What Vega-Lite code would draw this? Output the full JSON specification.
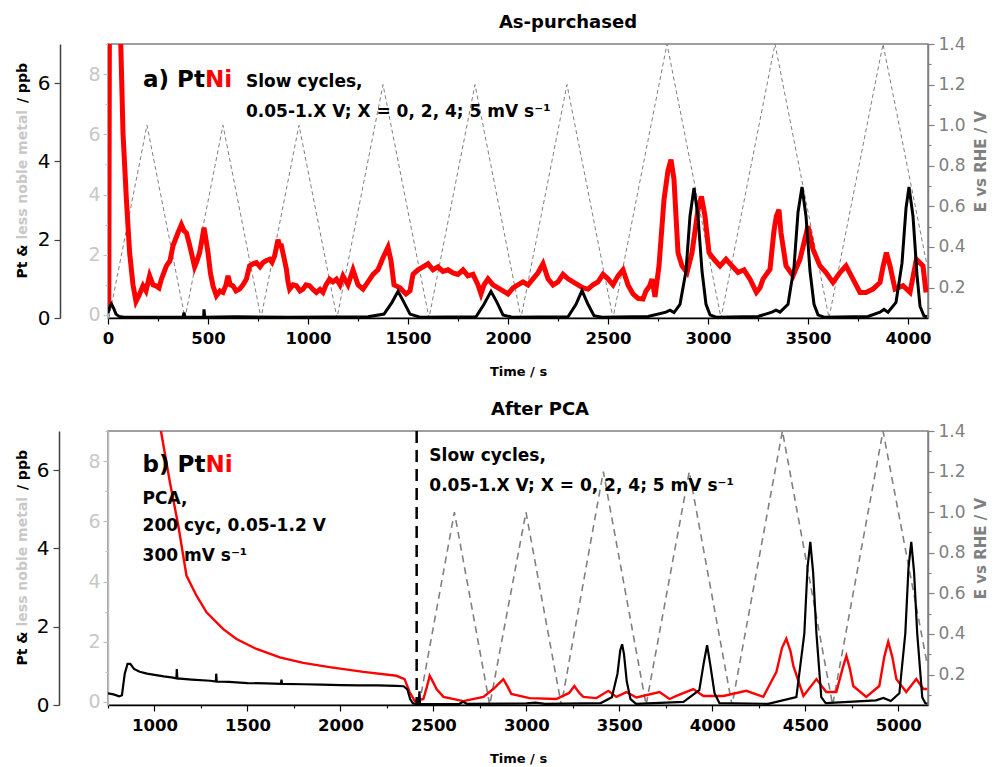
{
"$schema": "https://vega.github.io/schema/vega-lite/v6.json",
"padding": {"left": 14, "top": 13, "right": 2, "bottom": 0},
"background": "white",
"config": {
  "font": "DejaVu Sans",
  "view": {"stroke": "#808080", "strokeWidth": 1.5},
  "axis": {"labelFont": "DejaVu Sans", "titleFont": "DejaVu Sans", "grid": false, "domainWidth": 1.5, "tickWidth": 1.2, "labelFlush": false, "labelOverlap": false},
  "title": {"font": "DejaVu Sans", "fontSize": 18, "fontWeight": "bold", "color": "black"}
},
"datasets": {
  "a_e": [{"t":5,"v":0.05},{"t":195,"v":1.0},{"t":385,"v":0.05},{"t":575,"v":1.0},{"t":765,"v":0.05},{"t":955,"v":1.0},{"t":1145,"v":0.05},{"t":1375,"v":1.2},{"t":1605,"v":0.05},{"t":1835,"v":1.2},{"t":2065,"v":0.05},{"t":2295,"v":1.2},{"t":2525,"v":0.05},{"t":2795,"v":1.4},{"t":3065,"v":0.05},{"t":3335,"v":1.4},{"t":3605,"v":0.05},{"t":3875,"v":1.4},{"t":4095,"v":0.31}],
  "a_pt": [{"t":0,"v":0.12},{"t":8,"v":0.28},{"t":17,"v":0.36},{"t":28,"v":0.25},{"t":40,"v":0.1},{"t":55,"v":0.04},{"t":80,"v":0.02},{"t":200,"v":0.02},{"t":375,"v":0.02},{"t":380,"v":0.14},{"t":385,"v":0.02},{"t":478,"v":0.02},{"t":480,"v":0.22},{"t":484,"v":0.02},{"t":640,"v":0.03},{"t":900,"v":0.02},{"t":1300,"v":0.03},{"t":1380,"v":0.1},{"t":1420,"v":0.4},{"t":1450,"v":0.68},{"t":1480,"v":0.4},{"t":1510,"v":0.1},{"t":1560,"v":0.02},{"t":1840,"v":0.03},{"t":1880,"v":0.35},{"t":1915,"v":0.68},{"t":1945,"v":0.4},{"t":1975,"v":0.08},{"t":2020,"v":0.02},{"t":2300,"v":0.03},{"t":2340,"v":0.35},{"t":2370,"v":0.7},{"t":2400,"v":0.35},{"t":2430,"v":0.06},{"t":2470,"v":0.02},{"t":2700,"v":0.04},{"t":2790,"v":0.15},{"t":2810,"v":0.2},{"t":2830,"v":0.14},{"t":2860,"v":0.35},{"t":2890,"v":1.2},{"t":2910,"v":2.6},{"t":2930,"v":3.32},{"t":2950,"v":2.6},{"t":2970,"v":1.2},{"t":2990,"v":0.35},{"t":3010,"v":0.08},{"t":3040,"v":0.02},{"t":3250,"v":0.04},{"t":3320,"v":0.15},{"t":3340,"v":0.2},{"t":3360,"v":0.15},{"t":3400,"v":0.35},{"t":3430,"v":1.3},{"t":3450,"v":2.7},{"t":3470,"v":3.35},{"t":3490,"v":2.6},{"t":3510,"v":1.2},{"t":3530,"v":0.35},{"t":3550,"v":0.08},{"t":3580,"v":0.02},{"t":3800,"v":0.04},{"t":3860,"v":0.15},{"t":3880,"v":0.22},{"t":3900,"v":0.15},{"t":3940,"v":0.4},{"t":3970,"v":1.4},{"t":3990,"v":2.8},{"t":4005,"v":3.35},{"t":4025,"v":2.6},{"t":4045,"v":1.1},{"t":4060,"v":0.3},{"t":4080,"v":0.05},{"t":4095,"v":0.03}],
  "a_ni": [{"t":0,"v":0.3},{"t":4,"v":0.4},{"t":7,"v":9.5},{"t":62,"v":9.5},{"t":75,"v":6.05},{"t":92,"v":3.83},{"t":108,"v":2.08},{"t":125,"v":1.0},{"t":140,"v":0.45},{"t":155,"v":0.65},{"t":175,"v":0.97},{"t":190,"v":0.8},{"t":208,"v":1.3},{"t":225,"v":1.0},{"t":242,"v":0.96},{"t":255,"v":0.9},{"t":267,"v":1.19},{"t":292,"v":1.63},{"t":310,"v":1.8},{"t":325,"v":2.3},{"t":350,"v":2.73},{"t":367,"v":3.0},{"t":380,"v":2.8},{"t":392,"v":2.73},{"t":405,"v":2.4},{"t":417,"v":2.07},{"t":433,"v":1.6},{"t":445,"v":1.8},{"t":458,"v":2.07},{"t":470,"v":2.5},{"t":480,"v":2.9},{"t":490,"v":2.5},{"t":500,"v":2.07},{"t":512,"v":1.4},{"t":525,"v":0.97},{"t":542,"v":0.64},{"t":560,"v":0.8},{"t":575,"v":0.75},{"t":590,"v":1.0},{"t":600,"v":1.3},{"t":612,"v":1.0},{"t":625,"v":0.97},{"t":640,"v":0.8},{"t":658,"v":0.86},{"t":675,"v":1.0},{"t":692,"v":1.19},{"t":708,"v":1.63},{"t":725,"v":1.7},{"t":742,"v":1.74},{"t":760,"v":1.6},{"t":775,"v":1.74},{"t":790,"v":1.8},{"t":808,"v":1.85},{"t":820,"v":1.75},{"t":833,"v":1.96},{"t":850,"v":2.5},{"t":858,"v":2.3},{"t":867,"v":2.3},{"t":880,"v":1.9},{"t":892,"v":1.52},{"t":900,"v":1.1},{"t":908,"v":0.86},{"t":925,"v":1.0},{"t":942,"v":0.97},{"t":960,"v":0.8},{"t":975,"v":0.86},{"t":990,"v":1.0},{"t":1008,"v":0.97},{"t":1025,"v":0.85},{"t":1042,"v":0.75},{"t":1060,"v":0.85},{"t":1075,"v":0.75},{"t":1090,"v":1.0},{"t":1108,"v":1.19},{"t":1125,"v":1.1},{"t":1142,"v":1.19},{"t":1160,"v":1.0},{"t":1175,"v":1.3},{"t":1200,"v":1.0},{"t":1225,"v":1.5},{"t":1250,"v":1.0},{"t":1275,"v":0.86},{"t":1300,"v":1.1},{"t":1325,"v":1.35},{"t":1350,"v":1.5},{"t":1375,"v":1.9},{"t":1400,"v":2.25},{"t":1415,"v":1.8},{"t":1430,"v":1.0},{"t":1460,"v":0.9},{"t":1490,"v":0.7},{"t":1510,"v":0.8},{"t":1525,"v":1.35},{"t":1550,"v":1.5},{"t":1575,"v":1.6},{"t":1600,"v":1.7},{"t":1625,"v":1.5},{"t":1650,"v":1.6},{"t":1675,"v":1.45},{"t":1700,"v":1.5},{"t":1725,"v":1.4},{"t":1750,"v":1.35},{"t":1775,"v":1.5},{"t":1800,"v":1.3},{"t":1825,"v":1.35},{"t":1850,"v":1.0},{"t":1865,"v":0.7},{"t":1880,"v":1.0},{"t":1900,"v":1.2},{"t":1925,"v":1.0},{"t":1950,"v":0.9},{"t":1975,"v":0.8},{"t":2000,"v":0.7},{"t":2025,"v":0.9},{"t":2050,"v":1.0},{"t":2075,"v":1.1},{"t":2100,"v":1.0},{"t":2125,"v":1.2},{"t":2150,"v":1.4},{"t":2175,"v":1.7},{"t":2200,"v":1.2},{"t":2225,"v":1.0},{"t":2250,"v":1.1},{"t":2275,"v":1.35},{"t":2300,"v":1.2},{"t":2325,"v":1.1},{"t":2350,"v":1.0},{"t":2375,"v":0.9},{"t":2400,"v":0.86},{"t":2425,"v":1.0},{"t":2450,"v":1.1},{"t":2475,"v":1.35},{"t":2500,"v":1.2},{"t":2525,"v":1.0},{"t":2550,"v":1.3},{"t":2575,"v":1.5},{"t":2600,"v":1.0},{"t":2625,"v":0.7},{"t":2650,"v":0.55},{"t":2675,"v":0.53},{"t":2690,"v":0.8},{"t":2708,"v":0.96},{"t":2720,"v":1.19},{"t":2735,"v":0.6},{"t":2755,"v":1.63},{"t":2780,"v":3.83},{"t":2800,"v":4.8},{"t":2815,"v":5.16},{"t":2830,"v":4.5},{"t":2850,"v":2.07},{"t":2870,"v":1.63},{"t":2895,"v":1.41},{"t":2920,"v":2.07},{"t":2950,"v":3.5},{"t":2967,"v":3.94},{"t":2985,"v":3.28},{"t":3005,"v":2.07},{"t":3030,"v":1.85},{"t":3060,"v":1.63},{"t":3090,"v":1.85},{"t":3120,"v":1.63},{"t":3150,"v":1.41},{"t":3180,"v":1.5},{"t":3210,"v":1.19},{"t":3242,"v":0.75},{"t":3260,"v":0.9},{"t":3275,"v":1.19},{"t":3310,"v":1.52},{"t":3330,"v":2.8},{"t":3342,"v":3.28},{"t":3355,"v":3.5},{"t":3365,"v":2.73},{"t":3390,"v":1.63},{"t":3425,"v":1.3},{"t":3460,"v":1.85},{"t":3500,"v":2.95},{"t":3525,"v":2.18},{"t":3560,"v":1.63},{"t":3590,"v":1.41},{"t":3625,"v":1.08},{"t":3660,"v":1.41},{"t":3690,"v":1.63},{"t":3725,"v":1.19},{"t":3760,"v":0.75},{"t":3790,"v":0.75},{"t":3825,"v":0.86},{"t":3860,"v":1.08},{"t":3875,"v":1.6},{"t":3892,"v":2.07},{"t":3910,"v":1.63},{"t":3935,"v":0.86},{"t":3975,"v":0.97},{"t":4010,"v":0.75},{"t":4042,"v":1.85},{"t":4075,"v":1.63},{"t":4090,"v":0.75}],
  "a_big_black": [{"t":175,"v":5.89,"label":"a) Pt"}],
  "a_big_red": [{"t":485,"v":5.89,"label":"Ni"}],
  "a_txt": [{"t":690,"v":5.9,"label":"Slow cycles,"},{"t":690,"v":5.14,"label":"0.05-1.X V; X = 0, 2, 4; 5 mV s⁻¹"}],
  "b_e": [{"t":2423,"v":0.05},{"t":2613,"v":1.0},{"t":2803,"v":0.05},{"t":2998,"v":1.0},{"t":3188,"v":0.05},{"t":3414,"v":1.2},{"t":3644,"v":0.05},{"t":3876,"v":1.2},{"t":4106,"v":0.05},{"t":4377,"v":1.4},{"t":4647,"v":0.05},{"t":4918,"v":1.4},{"t":5156,"v":0.25}],
  "b_pt": [{"t":750,"v":0.3},{"t":780,"v":0.27},{"t":810,"v":0.22},{"t":825,"v":0.25},{"t":840,"v":0.8},{"t":855,"v":1.05},{"t":870,"v":1.05},{"t":890,"v":0.92},{"t":920,"v":0.85},{"t":960,"v":0.8},{"t":1000,"v":0.77},{"t":1050,"v":0.73},{"t":1100,"v":0.7},{"t":1118,"v":0.68},{"t":1120,"v":0.92},{"t":1123,"v":0.68},{"t":1200,"v":0.65},{"t":1300,"v":0.62},{"t":1330,"v":0.6},{"t":1332,"v":0.8},{"t":1335,"v":0.6},{"t":1400,"v":0.59},{"t":1500,"v":0.56},{"t":1600,"v":0.55},{"t":1680,"v":0.54},{"t":1683,"v":0.65},{"t":1686,"v":0.54},{"t":1800,"v":0.53},{"t":1900,"v":0.52},{"t":2000,"v":0.51},{"t":2100,"v":0.5},{"t":2200,"v":0.5},{"t":2300,"v":0.49},{"t":2340,"v":0.48},{"t":2360,"v":0.4},{"t":2375,"v":0.15},{"t":2390,"v":0.04},{"t":2420,"v":0.02},{"t":2425,"v":0.35},{"t":2428,"v":0.02},{"t":2500,"v":0.02},{"t":2640,"v":0.03},{"t":2660,"v":0.08},{"t":2680,"v":0.03},{"t":3000,"v":0.04},{"t":3050,"v":0.06},{"t":3100,"v":0.03},{"t":3400,"v":0.05},{"t":3460,"v":0.2},{"t":3490,"v":0.8},{"t":3505,"v":1.4},{"t":3515,"v":1.55},{"t":3525,"v":1.3},{"t":3540,"v":0.6},{"t":3560,"v":0.15},{"t":3590,"v":0.03},{"t":3845,"v":0.08},{"t":3930,"v":0.38},{"t":3955,"v":1.1},{"t":3972,"v":1.53},{"t":3990,"v":1.0},{"t":4012,"v":0.3},{"t":4038,"v":0.05},{"t":4300,"v":0.03},{"t":4452,"v":0.2},{"t":4495,"v":1.83},{"t":4512,"v":3.5},{"t":4527,"v":4.17},{"t":4542,"v":3.4},{"t":4560,"v":1.83},{"t":4586,"v":0.2},{"t":4610,"v":0.05},{"t":4880,"v":0.12},{"t":4920,"v":0.18},{"t":4960,"v":0.1},{"t":5006,"v":0.3},{"t":5038,"v":1.83},{"t":5055,"v":3.5},{"t":5070,"v":4.17},{"t":5085,"v":3.4},{"t":5102,"v":1.83},{"t":5129,"v":0.2},{"t":5145,"v":0.05},{"t":5156,"v":0.03}],
  "b_ni": [{"t":990,"v":10.6},{"t":1029,"v":9.2},{"t":1083,"v":7.3},{"t":1128,"v":5.86},{"t":1172,"v":4.2},{"t":1226,"v":3.53},{"t":1280,"v":2.98},{"t":1370,"v":2.42},{"t":1441,"v":2.09},{"t":1549,"v":1.76},{"t":1674,"v":1.48},{"t":1800,"v":1.3},{"t":1941,"v":1.16},{"t":2124,"v":1.0},{"t":2301,"v":0.87},{"t":2345,"v":0.76},{"t":2372,"v":0.33},{"t":2400,"v":0.03},{"t":2446,"v":0.1},{"t":2465,"v":0.5},{"t":2480,"v":0.87},{"t":2495,"v":0.7},{"t":2517,"v":0.43},{"t":2554,"v":0.17},{"t":2661,"v":0.03},{"t":2769,"v":0.17},{"t":2822,"v":0.43},{"t":2876,"v":0.76},{"t":2900,"v":0.5},{"t":2919,"v":0.27},{"t":3017,"v":0.13},{"t":3161,"v":0.1},{"t":3230,"v":0.3},{"t":3258,"v":0.53},{"t":3285,"v":0.3},{"t":3306,"v":0.17},{"t":3377,"v":0.13},{"t":3441,"v":0.37},{"t":3484,"v":0.17},{"t":3538,"v":0.33},{"t":3592,"v":0.15},{"t":3716,"v":0.33},{"t":3770,"v":0.1},{"t":3807,"v":0.2},{"t":3898,"v":0.43},{"t":3952,"v":0.2},{"t":4060,"v":0.2},{"t":4183,"v":0.37},{"t":4274,"v":0.17},{"t":4345,"v":1.0},{"t":4375,"v":1.8},{"t":4398,"v":2.1},{"t":4420,"v":1.7},{"t":4436,"v":1.2},{"t":4490,"v":0.2},{"t":4560,"v":0.76},{"t":4613,"v":0.33},{"t":4667,"v":0.33},{"t":4700,"v":1.1},{"t":4721,"v":1.53},{"t":4740,"v":1.1},{"t":4758,"v":0.53},{"t":4828,"v":0.17},{"t":4898,"v":0.53},{"t":4925,"v":1.5},{"t":4946,"v":2.0},{"t":4968,"v":1.5},{"t":4990,"v":0.76},{"t":5043,"v":0.33},{"t":5097,"v":0.76},{"t":5135,"v":0.43},{"t":5156,"v":0.43}],
  "b_div": [{"t":2410}],
  "b_big_black": [{"t":936,"v":5.95,"label":"b) Pt"}],
  "b_big_red": [{"t":1274,"v":5.95,"label":"Ni"}],
  "b_txt": [{"t":936,"v":5.14,"label":"PCA,"},{"t":936,"v":4.45,"label":"200 cyc, 0.05-1.2 V"},{"t":936,"v":3.69,"label":"300 mV s⁻¹"},{"t":2478,"v":6.24,"label":"Slow cycles,"},{"t":2478,"v":5.47,"label":"0.05-1.X V; X = 0, 2, 4; 5 mV s⁻¹"}]
},
"columns": 1,
"align": "none",
"spacing": 20,
"concat": [
{
  "width": 820, "height": 274,
  "title": {"text": "As-purchased", "dx": 50, "offset": 3},
  "resolve": {"scale": {"y": "independent"}},
  "layer": [
    {"data": {"name": "a_e"},
     "mark": {"type": "line", "color": "#808080", "strokeWidth": 1, "strokeDash": [4, 3], "clip": true},
     "encoding": {
       "x": {"field": "t", "type": "quantitative", "scale": {"domain": [0, 4100], "nice": false, "zero": false},
             "axis": {"title": "Time / s", "titleFontSize": 13, "titleFontWeight": "bold", "titleColor": "black", "titlePadding": 19,
                      "values": [0,250,500,750,1000,1250,1500,1750,2000,2250,2500,2750,3000,3250,3500,3750,4000],
                      "format": "d", "labelExpr": "datum.value % 500 === 0 ? datum.label : ''",
                      "tickSize": {"condition": {"test": "datum.value % 500 === 0", "value": 6}, "value": 3},
                      "labelFontSize": 16.5, "labelFontWeight": "bold", "labelColor": "black", "labelPadding": 6,
                      "domainColor": "black", "tickColor": "black"}},
       "y": {"field": "v", "type": "quantitative", "scale": {"domain": [0.05, 1.4], "nice": false, "zero": false},
             "axis": {"orient": "right", "title": "E vs RHE / V", "titleAngle": 270, "titleColor": "#808080", "titleFontSize": 15, "titleFontWeight": "bold",
                      "titleX": 52, "titleY": 117, "titleAlign": "center", "titleBaseline": "middle",
                      "values": [0.1,0.2,0.3,0.4,0.5,0.6,0.7,0.8,0.9,1.0,1.1,1.2,1.3,1.4],
                      "labelExpr": "round(datum.value*10) % 2 === 0 ? format(datum.value, '.1f') : ''",
                      "tickSize": {"condition": {"test": "round(datum.value*10) % 2 === 0", "value": 6}, "value": 3},
                      "labelFontSize": 17, "labelColor": "#808080", "labelPadding": 4, "domainColor": "#808080", "tickColor": "#808080"}}
     }},
    {"data": {"name": "a_ni"},
     "mark": {"type": "line", "color": "#ff0000", "strokeWidth": 5, "clip": true},
     "encoding": {
       "x": {"field": "t", "type": "quantitative", "scale": {"domain": [0, 4100], "nice": false, "zero": false}},
       "y": {"field": "v", "type": "quantitative", "scale": {"domain": [-0.1, 9], "nice": false, "zero": false},
             "axis": {"orient": "left", "title": "less noble metal", "titleAngle": 270, "titleColor": "#c8c8c8", "titleFontSize": 14, "titleFontWeight": "bold",
                      "titleX": -86, "titleY": 195, "titleAlign": "left", "titleBaseline": "middle",
                      "values": [0,1,2,3,4,5,6,7,8,9],
                      "labelExpr": "datum.value % 2 === 0 ? datum.label : ''",
                      "tickSize": {"condition": {"test": "datum.value % 2 === 0", "value": 5}, "value": 3},
                      "labelFontSize": 19, "labelColor": "#c8c8c8", "labelPadding": 3, "domainColor": "#c0c0c0", "tickColor": "#c0c0c0"}}
     }},
    {"layer": [
      {"data": {"name": "a_pt"},
       "mark": {"type": "line", "color": "black", "strokeWidth": 3, "clip": true},
       "encoding": {
         "x": {"field": "t", "type": "quantitative", "scale": {"domain": [0, 4100], "nice": false, "zero": false}},
         "y": {"field": "v", "type": "quantitative", "scale": {"domain": [0, 7], "nice": false, "zero": false},
               "axis": {"orient": "left", "offset": 48, "title": "Pt &\u00a0\u00a0\u00a0\u00a0\u00a0\u00a0\u00a0\u00a0\u00a0\u00a0\u00a0\u00a0\u00a0\u00a0\u00a0\u00a0\u00a0\u00a0\u00a0\u00a0\u00a0\u00a0\u00a0\u00a0\u00a0\u00a0\u00a0\u00a0\u00a0/ ppb",
                        "titleAngle": 270, "titleColor": "black", "titleFontSize": 14, "titleFontWeight": "bold",
                        "titleX": -38, "titleY": 234, "titleAlign": "left", "titleBaseline": "middle",
                        "values": [0,1,2,3,4,5,6,7],
                        "labelExpr": "datum.value % 2 === 0 ? datum.label : ''",
                        "tickSize": 6,
                        "labelFontSize": 20, "labelColor": "black", "labelPadding": 4, "domainColor": "#404040", "tickColor": "#404040"}}
       }},
      {"data": {"name": "a_big_black"},
       "mark": {"type": "text", "align": "left", "baseline": "alphabetic", "fontSize": 23, "fontWeight": "bold", "color": "black"},
       "encoding": {"x": {"field": "t", "type": "quantitative", "scale": {"domain": [0, 4100], "nice": false, "zero": false}},
                    "y": {"field": "v", "type": "quantitative", "scale": {"domain": [0, 7], "nice": false, "zero": false}},
                    "text": {"field": "label"}}},
      {"data": {"name": "a_big_red"},
       "mark": {"type": "text", "align": "left", "baseline": "alphabetic", "fontSize": 23, "fontWeight": "bold", "color": "#ff0000"},
       "encoding": {"x": {"field": "t", "type": "quantitative", "scale": {"domain": [0, 4100], "nice": false, "zero": false}},
                    "y": {"field": "v", "type": "quantitative", "scale": {"domain": [0, 7], "nice": false, "zero": false}},
                    "text": {"field": "label"}}},
      {"data": {"name": "a_txt"},
       "mark": {"type": "text", "align": "left", "baseline": "alphabetic", "fontSize": 17, "fontWeight": "bold", "color": "black"},
       "encoding": {"x": {"field": "t", "type": "quantitative", "scale": {"domain": [0, 4100], "nice": false, "zero": false}},
                    "y": {"field": "v", "type": "quantitative", "scale": {"domain": [0, 7], "nice": false, "zero": false}},
                    "text": {"field": "label"}}}
    ]}
  ]
},
{
  "width": 820, "height": 274,
  "title": {"text": "After PCA", "dx": 22, "offset": 3},
  "resolve": {"scale": {"y": "independent"}},
  "layer": [
    {"data": {"name": "b_e"},
     "mark": {"type": "line", "color": "#808080", "strokeWidth": 1.6, "strokeDash": [7, 5], "clip": true},
     "encoding": {
       "x": {"field": "t", "type": "quantitative", "scale": {"domain": [750, 5160], "nice": false, "zero": false},
             "axis": {"title": "Time / s", "titleFontSize": 13, "titleFontWeight": "bold", "titleColor": "black", "titlePadding": 19,
                      "values": [750,1000,1250,1500,1750,2000,2250,2500,2750,3000,3250,3500,3750,4000,4250,4500,4750,5000],
                      "format": "d", "labelExpr": "datum.value % 500 === 0 ? datum.label : ''",
                      "tickSize": {"condition": {"test": "datum.value % 500 === 0", "value": 6}, "value": 3},
                      "labelFontSize": 16.5, "labelFontWeight": "bold", "labelColor": "black", "labelPadding": 6,
                      "domainColor": "black", "tickColor": "black"}},
       "y": {"field": "v", "type": "quantitative", "scale": {"domain": [0.05, 1.4], "nice": false, "zero": false},
             "axis": {"orient": "right", "title": "E vs RHE / V", "titleAngle": 270, "titleColor": "#808080", "titleFontSize": 15, "titleFontWeight": "bold",
                      "titleX": 52, "titleY": 117, "titleAlign": "center", "titleBaseline": "middle",
                      "values": [0.1,0.2,0.3,0.4,0.5,0.6,0.7,0.8,0.9,1.0,1.1,1.2,1.3,1.4],
                      "labelExpr": "round(datum.value*10) % 2 === 0 ? format(datum.value, '.1f') : ''",
                      "tickSize": {"condition": {"test": "round(datum.value*10) % 2 === 0", "value": 6}, "value": 3},
                      "labelFontSize": 17, "labelColor": "#808080", "labelPadding": 4, "domainColor": "#808080", "tickColor": "#808080"}}
     }},
    {"data": {"name": "b_ni"},
     "mark": {"type": "line", "color": "#ff0000", "strokeWidth": 2.4, "clip": true},
     "encoding": {
       "x": {"field": "t", "type": "quantitative", "scale": {"domain": [750, 5160], "nice": false, "zero": false}},
       "y": {"field": "v", "type": "quantitative", "scale": {"domain": [-0.1, 9], "nice": false, "zero": false},
             "axis": {"orient": "left", "title": "less noble metal", "titleAngle": 270, "titleColor": "#c8c8c8", "titleFontSize": 14, "titleFontWeight": "bold",
                      "titleX": -86, "titleY": 195, "titleAlign": "left", "titleBaseline": "middle",
                      "values": [0,1,2,3,4,5,6,7,8,9],
                      "labelExpr": "datum.value % 2 === 0 ? datum.label : ''",
                      "tickSize": {"condition": {"test": "datum.value % 2 === 0", "value": 5}, "value": 3},
                      "labelFontSize": 19, "labelColor": "#c8c8c8", "labelPadding": 3, "domainColor": "#c0c0c0", "tickColor": "#c0c0c0"}}
     }},
    {"layer": [
      {"data": {"name": "b_pt"},
       "mark": {"type": "line", "color": "black", "strokeWidth": 2.2, "clip": true},
       "encoding": {
         "x": {"field": "t", "type": "quantitative", "scale": {"domain": [750, 5160], "nice": false, "zero": false}},
         "y": {"field": "v", "type": "quantitative", "scale": {"domain": [0, 7], "nice": false, "zero": false},
               "axis": {"orient": "left", "offset": 49, "title": "Pt &\u00a0\u00a0\u00a0\u00a0\u00a0\u00a0\u00a0\u00a0\u00a0\u00a0\u00a0\u00a0\u00a0\u00a0\u00a0\u00a0\u00a0\u00a0\u00a0\u00a0\u00a0\u00a0\u00a0\u00a0\u00a0\u00a0\u00a0\u00a0\u00a0/ ppb",
                        "titleAngle": 270, "titleColor": "black", "titleFontSize": 14, "titleFontWeight": "bold",
                        "titleX": -37, "titleY": 234, "titleAlign": "left", "titleBaseline": "middle",
                        "values": [0,1,2,3,4,5,6,7],
                        "labelExpr": "datum.value % 2 === 0 ? datum.label : ''",
                        "tickSize": 6,
                        "labelFontSize": 20, "labelColor": "black", "labelPadding": 4, "domainColor": "#404040", "tickColor": "#404040"}}
       }},
      {"data": {"name": "b_div"},
       "mark": {"type": "rule", "color": "black", "strokeWidth": 2.5, "strokeDash": [12, 7]},
       "encoding": {"x": {"field": "t", "type": "quantitative", "scale": {"domain": [750, 5160], "nice": false, "zero": false}}}},
      {"data": {"name": "b_big_black"},
       "mark": {"type": "text", "align": "left", "baseline": "alphabetic", "fontSize": 23, "fontWeight": "bold", "color": "black"},
       "encoding": {"x": {"field": "t", "type": "quantitative", "scale": {"domain": [750, 5160], "nice": false, "zero": false}},
                    "y": {"field": "v", "type": "quantitative", "scale": {"domain": [0, 7], "nice": false, "zero": false}},
                    "text": {"field": "label"}}},
      {"data": {"name": "b_big_red"},
       "mark": {"type": "text", "align": "left", "baseline": "alphabetic", "fontSize": 23, "fontWeight": "bold", "color": "#ff0000"},
       "encoding": {"x": {"field": "t", "type": "quantitative", "scale": {"domain": [750, 5160], "nice": false, "zero": false}},
                    "y": {"field": "v", "type": "quantitative", "scale": {"domain": [0, 7], "nice": false, "zero": false}},
                    "text": {"field": "label"}}},
      {"data": {"name": "b_txt"},
       "mark": {"type": "text", "align": "left", "baseline": "alphabetic", "fontSize": 17, "fontWeight": "bold", "color": "black"},
       "encoding": {"x": {"field": "t", "type": "quantitative", "scale": {"domain": [750, 5160], "nice": false, "zero": false}},
                    "y": {"field": "v", "type": "quantitative", "scale": {"domain": [0, 7], "nice": false, "zero": false}},
                    "text": {"field": "label"}}}
    ]}
  ]
}
]
}
